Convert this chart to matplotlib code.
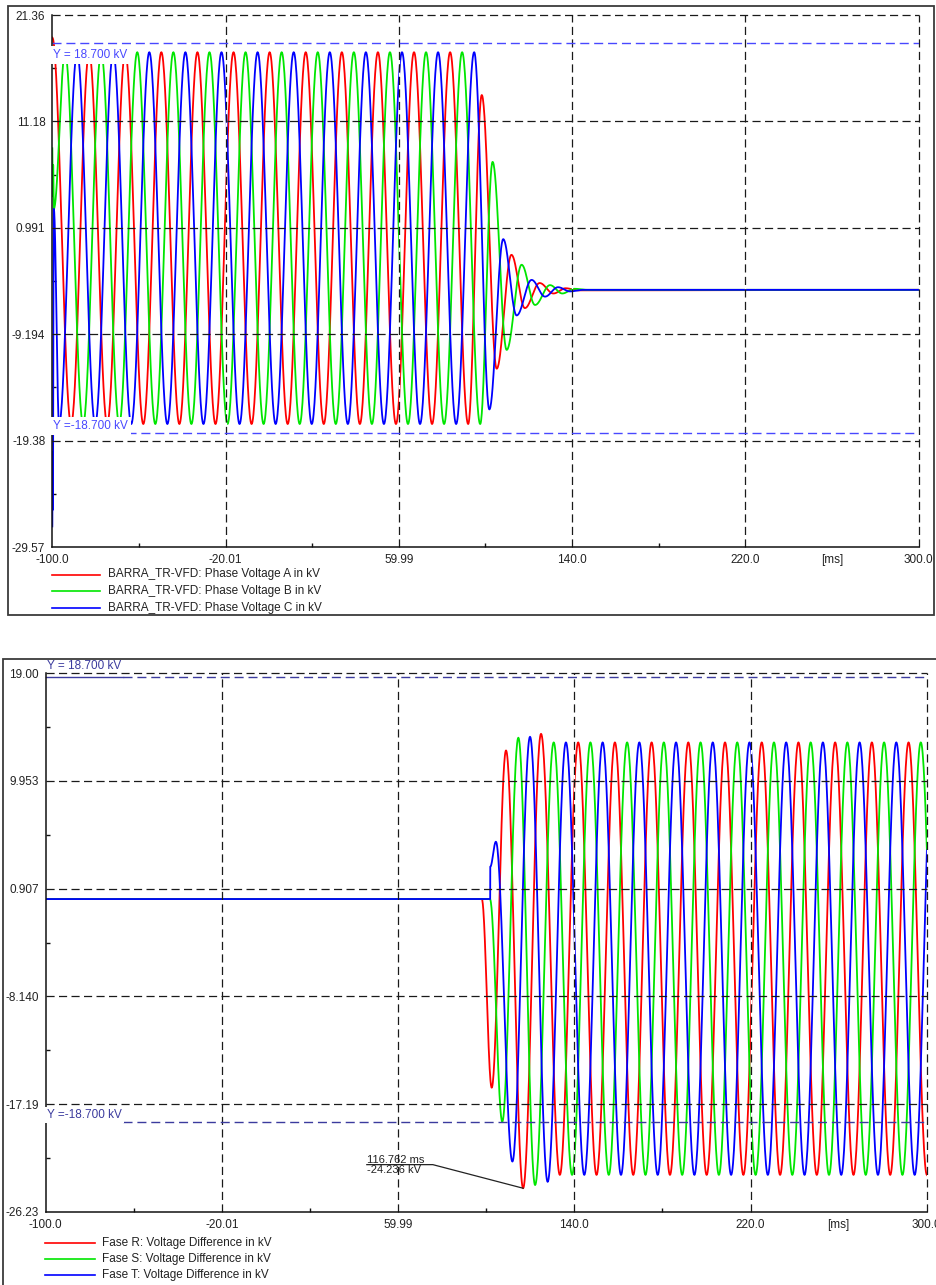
import numpy as np
import matplotlib
matplotlib.use("Agg")
import matplotlib.pyplot as plt
from matplotlib.lines import Line2D
from matplotlib.patches import Rectangle
from matplotlib.transforms import IdentityTransform

plt.rcParams["font.family"] = ["Liberation Sans", "DejaVu Sans"]

W, H = 937, 1285
PERIOD_MS = 1000.0 / 60.0

# ---- axes / ticks -------------------------------------------------------
x_ticks = [-100.0, -20.01, 59.99, 140.0, 220.0, 300.0]
x_ticklabels = ["-100.0", "-20.01", "59.99", "140.0", "220.0", "300.0"]
x_minor = [-60.0, 20.0, 100.0, 180.0, 260.0]
x_unit_pos = 260.0
x_unit = "[ms]"

top_yticks = [21.36, 11.18, 0.991, -9.194, -19.38, -29.57]
top_yticklabels = ["21.36", "11.18", "0.991", "-9.194", "-19.38", "-29.57"]
bot_yticks = [19.00, 9.953, 0.907, -8.140, -17.19, -26.23]
bot_yticklabels = ["19.00", "9.953", "0.907", "-8.140", "-17.19", "-26.23"]

limit_kv = 18.7

# ---- top panel: phase voltages (kV) -------------------------------------
top_amp = 17.8
top_offset = 0.0
top_final = -4.95

a_top_peak_ref = -99.65
a_top_span = (-99.0, 92.5)
a_top_start_t = [-100.0]
a_top_start_v = [19.2]
a_top_decay_t = [98.3, 105.2, 112.0, 118.2, 125.0, 131.4, 137.0, 143.0, 300.0]
a_top_decay_v = [13.7, -12.5, -1.6, -6.7, -4.3, -5.3, -4.8, -5.0, top_final]

b_top_peak_ref = -94.1
b_top_span = (-95.0, 98.0)
b_top_start_t = [-100.0, -99.8, -99.6, -99.3]
b_top_start_v = [8.6, 4.0, 7.0, 2.8]
b_top_decay_t = [103.3, 109.8, 116.7, 122.9, 129.8, 135.5, 141.0, 147.0, 300.0]
b_top_decay_v = [7.3, -10.7, -2.55, -6.4, -4.5, -5.3, -4.85, -4.95, top_final]

c_top_peak_ref = -88.54
c_top_span = (-98.0, 95.5)
c_top_start_t = [-100.0, -99.85, -99.7, -99.5, -99.3]
c_top_start_v = [-27.6, -20.5, -26.0, -6.0, 2.8]
c_top_decay_t = [101.8, 108.2, 114.4, 121.3, 127.5, 133.5, 139.0, 145.0, 300.0]
c_top_decay_v = [-16.4, -0.1, -7.4, -4.0, -5.6, -4.7, -5.1, -4.95, top_final]

top_labels = ["BARRA_TR-VFD: Phase Voltage A in kV",
              "BARRA_TR-VFD: Phase Voltage B in kV",
              "BARRA_TR-VFD: Phase Voltage C in kV"]

# ---- bottom panel: voltage differences (kV) -----------------------------
bot_amp = 18.15
bot_offset = -4.97
bot_flat = 0.03

r_bot_peak_ref = 125.1
r_bot_span = (133.0, 310.0)
r_bot_start_t = [-100.0, 98.0, 102.5, 109.0, 116.76, 124.9]
r_bot_start_v = [bot_flat, bot_flat, -15.8, 12.5, -24.24, 13.9]

s_bot_peak_ref = 130.65
s_bot_span = (130.0, 310.0)
s_bot_start_t = [-100.0, 101.7, 107.3, 114.6, 122.2]
s_bot_start_v = [bot_flat, bot_flat, -18.65, 13.57, -23.97]

t_bot_peak_ref = 136.2
t_bot_span = (136.0, 310.0)
t_bot_start_t = [-100.0, 101.8, 101.85, 104.4, 111.9, 119.9, 127.9]
t_bot_start_v = [bot_flat, bot_flat, 2.75, 4.84, -22.0, 13.65, -23.7]

bot_labels = ["Fase R: Voltage Difference in kV",
              "Fase S: Voltage Difference in kV",
              "Fase T: Voltage Difference in kV"]

cursor_t = 116.762
cursor_v = -24.236

phase_colors = ["#ff0000", "#00e600", "#0000ff"]


def steady_extrema(t_peak, amp, offset, span):
    half = PERIOD_MS / 2.0
    k0 = int(np.ceil((span[0] - t_peak) / half))
    k1 = int(np.floor((span[1] - t_peak) / half))
    ks = np.arange(k0, k1 + 1)
    return list(t_peak + ks * half), list(offset + amp * np.where(ks % 2 == 0, 1.0, -1.0))


def waveform(ts, vs, n=40):
    out_t, out_v = [ts[0]], [vs[0]]
    s = np.linspace(0.0, 1.0, n)[1:]
    for i in range(len(ts) - 1):
        t0, t1, v0, v1 = ts[i], ts[i + 1], vs[i], vs[i + 1]
        out_t.extend(t0 + (t1 - t0) * s)
        out_v.extend(0.5 * (v0 + v1) + 0.5 * (v0 - v1) * np.cos(np.pi * s))
    return np.array(out_t), np.array(out_v)


def build(start_t, start_v, peak_ref, amp, offset, span, tail_t=(), tail_v=()):
    st, sv = steady_extrema(peak_ref, amp, offset, span)
    return waveform(list(start_t) + st + list(tail_t), list(start_v) + sv + list(tail_v))


def px_box(x0, y0, x1, y1):
    return [x0 / W, 1 - y1 / H, (x1 - x0) / W, (y1 - y0) / H]


def style_axes(ax, yticks, yticklabels):
    ax.set_xlim(-100.0, 300.0)
    ax.set_ylim(yticks[-1], yticks[0])
    ax.set_xticks(x_ticks + [x_unit_pos])
    ax.set_xticklabels(x_ticklabels + [x_unit])
    ax.set_yticks(yticks)
    ax.set_yticklabels(yticklabels)
    ax.set_xticks(x_minor, minor=True)
    mids = [(yticks[i] + yticks[i + 1]) / 2 for i in range(len(yticks) - 1)]
    ax.set_yticks(mids, minor=True)
    ax.tick_params(which="major", length=0, labelsize=8.5, labelcolor="#222222")
    ax.tick_params(axis="x", which="major", pad=5)
    ax.tick_params(axis="y", which="major", pad=5)
    ax.tick_params(which="minor", direction="in", length=3, width=1, color="#111111")
    for side in ["top", "right"]:
        ax.spines[side].set_visible(False)
    for side in ["left", "bottom"]:
        ax.spines[side].set_linewidth(1.1)
        ax.spines[side].set_color("#111111")
        ax.spines[side].set_zorder(6)
    for xv in x_ticks[1:]:
        ax.axvline(xv, color="#1a1a1a", lw=0.9, ls=(0, (6.5, 3.5)), gapcolor="white",
                   zorder=4, clip_on=False)
    for yv in yticks[:-1]:
        ax.axhline(yv, color="#1a1a1a", lw=0.9, ls=(0, (6.5, 3.5)), zorder=4, clip_on=False)


fig = plt.figure(figsize=(W / 100, H / 100), dpi=100)

# outer frames
for box in [(8, 6, 934, 615), (3, 659, 945, 1295)]:
    fig.patches.append(Rectangle((box[0] / W, 1 - box[3] / H), (box[2] - box[0]) / W,
                                 (box[3] - box[1]) / H, transform=fig.transFigure,
                                 fill=False, ec="#3a3a3a", lw=1.3))

# ---------------- top panel ----------------
ax1 = fig.add_axes(px_box(52.3, 15, 918.6, 547))
style_axes(ax1, top_yticks, top_yticklabels)
top_traces = [
    build(a_top_start_t, a_top_start_v, a_top_peak_ref, top_amp, top_offset, a_top_span,
          a_top_decay_t, a_top_decay_v),
    build(b_top_start_t, b_top_start_v, b_top_peak_ref, top_amp, top_offset, b_top_span,
          b_top_decay_t, b_top_decay_v),
    build(c_top_start_t, c_top_start_v, c_top_peak_ref, top_amp, top_offset, c_top_span,
          c_top_decay_t, c_top_decay_v),
]
for (tt, vv), col in zip(top_traces, phase_colors):
    ax1.plot(tt, vv, color=col, lw=1.3, zorder=3)

lim_col_top = "#4848ff"
ax1.plot([-100, 300], [limit_kv, limit_kv], color=lim_col_top, lw=1.0,
         ls=(0, (6.5, 3.5)), zorder=5)
ax1.plot([-65.5, 300], [-limit_kv, -limit_kv], color=lim_col_top, lw=1.0,
         ls=(0, (6.5, 3.5)), zorder=5)
ax1.text(-99.5, 17.55, "Y = 18.700 kV", color=lim_col_top, fontsize=8.5, va="center",
         ha="left", zorder=7, bbox=dict(boxstyle="square,pad=0.25", fc="white", ec="none"))
ax1.text(-99.5, -17.98, "Y =-18.700 kV", color=lim_col_top, fontsize=8.5, va="center",
         ha="left", zorder=7, bbox=dict(boxstyle="square,pad=0.25", fc="white", ec="none"))

# ---------------- bottom panel ----------------
ax2 = fig.add_axes(px_box(45.7, 673, 926.7, 1212))
style_axes(ax2, bot_yticks, bot_yticklabels)
bot_traces = [
    build(r_bot_start_t, r_bot_start_v, r_bot_peak_ref, bot_amp, bot_offset, r_bot_span),
    build(s_bot_start_t, s_bot_start_v, s_bot_peak_ref, bot_amp, bot_offset, s_bot_span),
    build(t_bot_start_t, t_bot_start_v, t_bot_peak_ref, bot_amp, bot_offset, t_bot_span),
]
for (tt, vv), col in zip(bot_traces, phase_colors):
    ax2.plot(tt, vv, color=col, lw=1.3, zorder=3)

lim_col_bot = "#3b3b9e"
ax2.plot([-65.0, 300], [limit_kv, limit_kv], color=lim_col_bot, lw=1.0,
         ls=(0, (6.5, 3.5)), zorder=5, clip_on=False)
ax2.plot([-100.0, -65.0], [limit_kv, limit_kv], color=lim_col_bot, lw=1.0, zorder=5,
         clip_on=False)
ax2.plot([-65.0, 300], [-limit_kv, -limit_kv], color=lim_col_bot, lw=1.0,
         ls=(0, (6.5, 3.5)), zorder=5)
ax2.text(-99.5, 19.55, "Y = 18.700 kV", color=lim_col_bot, fontsize=8.5, va="center",
         ha="left", zorder=7, clip_on=False)
ax2.text(-99.5, -18.09, "Y =-18.700 kV", color=lim_col_bot, fontsize=8.5, va="center",
         ha="left", zorder=7, bbox=dict(boxstyle="square,pad=0.2", fc="white", ec="none"))

# cursor annotation
fig.canvas.draw()
px, py = ax2.transData.transform((cursor_t, cursor_v))
fig.add_artist(Line2D([px - 156.3, px - 90.3, px], [py + 23.6, py + 23.6, py],
                      transform=IdentityTransform(), color="#222222", lw=0.9))
fig.text(px - 156.3, py + 28.6, f"{cursor_t:.3f} ms", transform=IdentityTransform(),
         fontsize=8, color="#222222", va="center", ha="left")
fig.text(px - 156.3, py + 18.6, f"{cursor_v:.3f} kV", transform=IdentityTransform(),
         fontsize=8, color="#222222", va="center", ha="left")

# ---------------- legends ----------------
def draw_legend(labels, x_line0, x_line1, x_text, rows):
    for lab, col, yrow in zip(labels, phase_colors, rows):
        fig.add_artist(Line2D([x_line0 / W, x_line1 / W], [1 - yrow / H, 1 - yrow / H],
                              transform=fig.transFigure, color=col, lw=1.2))
        fig.text(x_text / W, 1 - yrow / H, lab, fontsize=8.5, color="#222222",
                 va="center", ha="left")


draw_legend(top_labels, 52, 100, 108, [574.5, 591.5, 607.5])
draw_legend(bot_labels, 45, 95, 102, [1243, 1259, 1275])

fig.savefig("out.png", dpi=100)
